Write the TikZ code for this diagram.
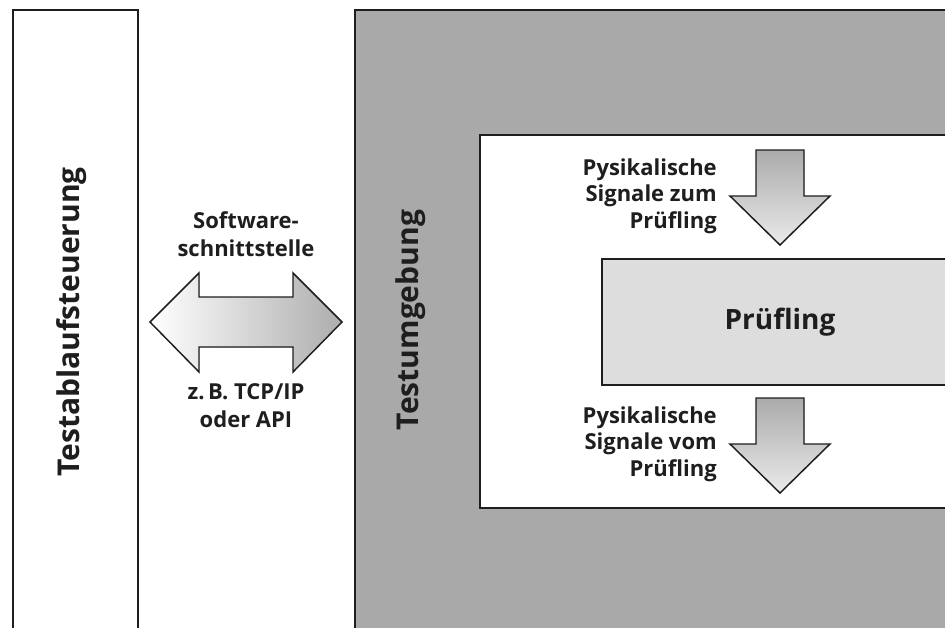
\documentclass[tikz,border=0pt]{standalone}
\usepackage{fontspec}
\setmainfont{Open Sans}
\definecolor{envgray}{HTML}{A9A9A9}
\definecolor{dutfill}{HTML}{DDDDDD}
\definecolor{edge}{HTML}{1E1E1E}
\begin{document}
\begin{tikzpicture}[x=0.75pt,y=0.75pt,
  frame/.style={draw=edge,line width=1.5pt},
  title/.style={font=\fontsize{22.5}{27}\selectfont\bfseries,text=edge},
  label/.style={font=\fontsize{16.5}{20}\selectfont\bfseries,text=edge,inner sep=0pt},
  blockarrow/.style={draw=edge,line width=1.1pt,line join=miter},
  area/.style={inner sep=0pt,outer sep=0pt,anchor=north west},
  ]
\useasboundingbox (0,0) rectangle (945,-628);

% Testablaufsteuerung column (open at the bottom)
\node (ctl) [area,fill=white,minimum width=93.75pt,minimum height=463.5pt] at (12.5,-10) {};
\draw[frame] (ctl.south west) -- (ctl.north west) -- (ctl.north east) -- (ctl.south east);
\node[title,rotate=90] (ctltxt) at (72,-322) {Testablaufsteuerung};

% Testumgebung area (open at the right and bottom)
\node (env) [area,fill=envgray,minimum width=443.25pt,minimum height=463.5pt] at (354.5,-10) {};
\draw[frame] (env.south west) -- (env.north west) -- (env.north east);
\node[title,rotate=90] (envtxt) at (411,-320) {Testumgebung};

% inner white panel
\node (panel) [area,fill=white,minimum width=348.75pt,minimum height=279.75pt] at (480,-135) {};
\draw[frame] (panel.north east) -- (panel.north west) -- (panel.south west) -- (panel.south east);

% device under test
\node (dut) [area,fill=dutfill,minimum width=257.25pt,minimum height=94.5pt] at (602,-259) {};
\draw[frame] (dut.north east) -- (dut.north west) -- (dut.south west) -- (dut.south east);
\node[font=\fontsize{21}{25}\selectfont\bfseries,text=edge] (duttxt) at (780,-322) {Prüfling};

% software interface double arrow
\filldraw[blockarrow,left color=white,right color=black!32]
  (150,-322) -- (199,-273) -- (199,-297) -- (293,-297) -- (293,-273)
  -- (342,-322) -- (293,-372) -- (293,-347) -- (199,-347) -- (199,-372) -- cycle;
\node[label,align=center] (swif) at (246,-234) {Software-\\[1pt]schnittstelle};
\node[label,align=center] (proto) at (246,-406) {z.\,B. TCP/IP\\[1pt]oder API};

% signal arrows into and out of the device
\filldraw[blockarrow,top color=black!33,bottom color=black!8]
  (756,-150) -- (804,-150) -- (804,-196) -- (830,-196) -- (780,-245)
  -- (730,-196) -- (756,-196) -- cycle;
\node[label,align=right,anchor=east] (sigin) at (717,-196) {Pysikalische\\Signale zum\\Prüfling};

\filldraw[blockarrow,top color=black!33,bottom color=black!8]
  (756,-398) -- (804,-398) -- (804,-444) -- (830,-444) -- (780,-493)
  -- (730,-444) -- (756,-444) -- cycle;
\node[label,align=right,anchor=east] (sigout) at (717,-444) {Pysikalische\\Signale vom\\Prüfling};
\end{tikzpicture}
\end{document}
